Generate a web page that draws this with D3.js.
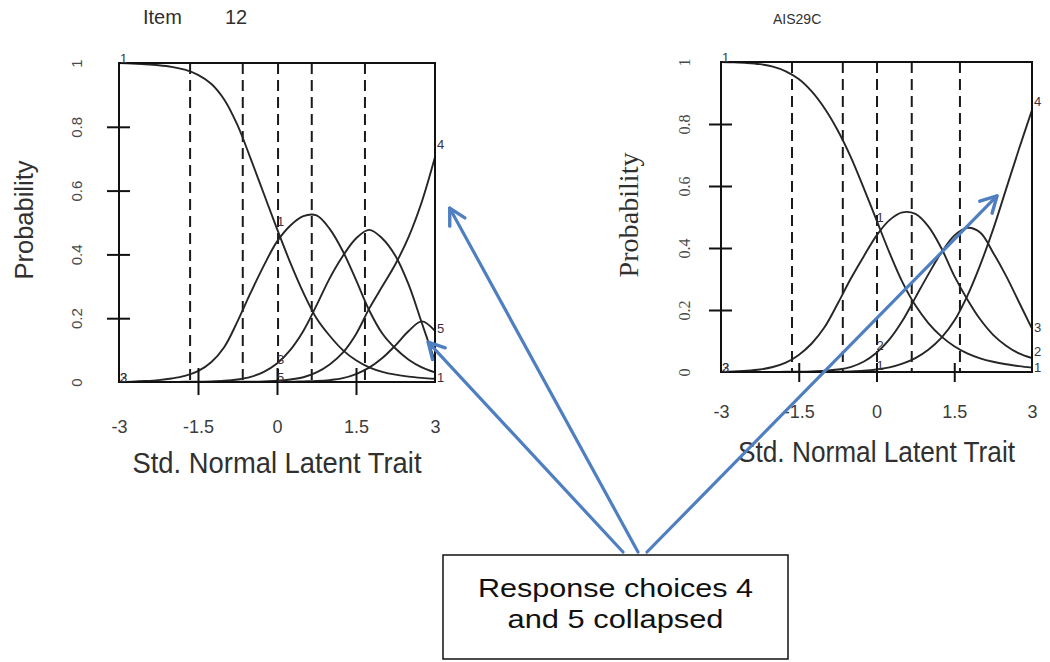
<!DOCTYPE html>
<html><head><meta charset="utf-8">
<script src="https://cdn.jsdelivr.net/npm/d3@7/dist/d3.min.js"></script>
<style>body{margin:0;background:#fff}svg{display:block}</style>
</head><body>
<svg id="c" width="1050" height="662"></svg>
<script>
// ---------- data ----------
const thetaGrid = [-3,-2.75,-2.5,-2.25,-2,-1.75,-1.5,-1.25,-1,-0.75,-0.5,-0.25,0,0.25,0.5,0.75,1,1.25,1.5,1.75,2,2.25,2.5,2.75,3];

const item12Cat1 = [1.000,0.998,0.996,0.993,0.988,0.979,0.963,0.935,0.885,0.805,0.700,0.590,0.480,0.375,0.280,0.200,0.145,0.100,0.068,0.046,0.032,0.023,0.017,0.013,0.010];
const item12Cat2 = [0.000,0.001,0.003,0.006,0.011,0.019,0.034,0.062,0.110,0.190,0.280,0.365,0.440,0.490,0.520,0.522,0.480,0.410,0.320,0.225,0.152,0.105,0.070,0.046,0.030];
const item12Cat3 = [0.000,0.000,0.000,0.000,0.000,0.001,0.001,0.002,0.004,0.008,0.016,0.032,0.058,0.100,0.160,0.240,0.325,0.395,0.450,0.477,0.450,0.395,0.305,0.185,0.065];
const item12Cat4 = [0.000,0.000,0.000,0.000,0.000,0.000,0.000,0.000,0.000,0.001,0.001,0.002,0.004,0.008,0.015,0.030,0.055,0.092,0.150,0.230,0.300,0.370,0.455,0.565,0.705];
const item12Cat5 = [0.000,0.000,0.000,0.000,0.000,0.000,0.000,0.000,0.000,0.000,0.000,0.000,0.001,0.001,0.002,0.003,0.006,0.012,0.025,0.045,0.075,0.115,0.160,0.190,0.160];

const ais29cCat1 = [1.000,0.999,0.997,0.993,0.985,0.970,0.945,0.905,0.850,0.780,0.695,0.595,0.490,0.385,0.290,0.215,0.158,0.115,0.083,0.060,0.044,0.033,0.025,0.019,0.014];
const ais29cCat2 = [0.000,0.002,0.004,0.008,0.016,0.030,0.055,0.092,0.145,0.220,0.300,0.372,0.440,0.490,0.515,0.510,0.470,0.400,0.310,0.235,0.170,0.120,0.085,0.060,0.045];
const ais29cCat3 = [0.000,0.000,0.000,0.000,0.000,0.001,0.001,0.002,0.004,0.008,0.016,0.033,0.062,0.105,0.165,0.240,0.315,0.385,0.440,0.465,0.450,0.385,0.310,0.225,0.140];
const ais29cCat4 = [0.000,0.000,0.000,0.000,0.000,0.000,0.000,0.000,0.000,0.001,0.002,0.004,0.008,0.015,0.027,0.045,0.072,0.110,0.165,0.245,0.345,0.460,0.590,0.720,0.845];

const item12Thresholds = [-1.65,-0.65,0.02,0.66,1.67];
const ais29cThresholds = [-1.63,-0.65,0.01,0.68,1.61];

const xTickValues = [-3,-1.5,0,1.5,3];
const xTickLabels = ["-3","-1.5","0","1.5","3"];
const xTickMarks = [-1.5,0,1.5];
const yTickValues = [0,0.2,0.4,0.6,0.8,1];
const yTickLabels = ["0","0.2","0.4","0.6","0.8","1"];
const yTickMarks = [0.2,0.4,0.6,0.8];

// curve labels [text, theta, probability]
const item12CurveLabels = [["1",-3,1.0],["1",0.07,0.49],["3",0.07,0.056],["5",0.07,0.0],["2",-3,0.0],["3",-3,0.0],["4",3,0.73],["5",3,0.154],["1",3,0.0]];
const ais29cCurveLabels = [["1",-3,1.0],["1",0.07,0.484],["2",0.07,0.071],["1",0.07,0.006],["2",-3,0.0],["3",-3,0.0],["4",3,0.858],["3",3,0.129],["2",3,0.052],["1",3,0.0]];

const panelTitles = ["Item", "AIS29C"];
const itemNumber = "12";
const xTitle = "Std. Normal Latent Trait";
const yTitle = "Probability";
const noteLines = ["Response choices 4", "and 5 collapsed"];

// arrow targets [panelIndex, theta, probability]
const arrowTargets = [[0,2.87,0.125],[0,3.28,0.545],[1,2.325,0.568]];

// ---------- layout ----------
const svg = d3.select("#c");
svg.append("rect").attr("width",1050).attr("height",662).attr("fill","#fff");
const SANS = "'Liberation Sans', Arial, sans-serif";
const SERIF = "'Liberation Serif', 'Times New Roman', serif";

const panels = [
  {left:119,right:435,bottom:382,top:63,
   curves:[item12Cat1,item12Cat2,item12Cat3,item12Cat4,item12Cat5],
   thresholds:item12Thresholds, labels:item12CurveLabels,
   yLabFont:SANS, yLabSize:15, yLabOff:-37, xLabOff:51,
   yTitleFont:SANS, yTitleSize:25, yTitleX:33, yTitleY:220, yTitleLen:119,
   xTitleY:473, xTitleLen:289, xtickUp:14, xtickDown:13},
  {left:721,right:1032,bottom:372,top:62,
   curves:[ais29cCat1,ais29cCat2,ais29cCat3,ais29cCat4],
   thresholds:ais29cThresholds, labels:ais29cCurveLabels,
   yLabFont:SERIF, yLabSize:16, yLabOff:-31, xLabOff:46,
   yTitleFont:SERIF, yTitleSize:27, yTitleX:638, yTitleY:215, yTitleLen:125,
   xTitleY:462, xTitleLen:277, xtickUp:9, xtickDown:10}
];

panels.forEach((P,pi)=>{
  const x = d3.scaleLinear().domain([-3,3]).range([P.left,P.right]);
  const y = d3.scaleLinear().domain([0,1]).range([P.bottom,P.top]);
  P.x = x; P.y = y;
  const g = svg.append("g");

  // dashed threshold lines
  g.selectAll("line.th").data(P.thresholds).join("line")
    .attr("x1",d=>x(d)).attr("x2",d=>x(d))
    .attr("y1",y(1)).attr("y2",y(0))
    .attr("stroke","#1a1a1a").attr("stroke-width",2).attr("stroke-dasharray","11,6");

  // curves
  const line = d3.line().x((d,i)=>x(thetaGrid[i])).y(d=>y(d)).curve(d3.curveCatmullRom.alpha(0.5));
  g.selectAll("path.cv").data(P.curves).join("path")
    .attr("d",d=>line(d)).attr("fill","none")
    .attr("stroke","#262626").attr("stroke-width",1.9);

  // box
  g.append("rect").attr("x",x(-3)).attr("y",y(1))
    .attr("width",x(3)-x(-3)).attr("height",y(0)-y(1))
    .attr("fill","none").attr("stroke","#111").attr("stroke-width",2);

  // x tick marks (crossing axis)
  const xAxisMarks = g.append("g").attr("transform",`translate(0,${y(0)})`)
    .call(d3.axisBottom(x).tickValues(xTickMarks).tickSize(P.xtickDown).tickFormat(""));
  xAxisMarks.select(".domain").remove();
  xAxisMarks.selectAll(".tick line").attr("y1",-P.xtickUp).attr("stroke","#111").attr("stroke-width",2);

  // x tick labels
  const xAxisLab = g.append("g").attr("transform",`translate(0,${y(0)})`)
    .call(d3.axisBottom(x).tickValues(xTickValues).tickSize(0).tickFormat((d,i)=>xTickLabels[i]));
  xAxisLab.select(".domain").remove();
  xAxisLab.selectAll(".tick text").attr("y",P.xLabOff).attr("dy",0)
    .attr("font-family",SANS).attr("font-size",18).attr("fill","#3c3c3c");

  // y tick marks (crossing axis)
  const yAxisMarks = g.append("g").attr("transform",`translate(${x(-3)},0)`)
    .call(d3.axisLeft(y).tickValues(yTickMarks).tickSize(12).tickFormat(""));
  yAxisMarks.select(".domain").remove();
  yAxisMarks.selectAll(".tick line").attr("x1",11).attr("stroke","#111").attr("stroke-width",2);

  // y tick labels (rotated)
  const yAxisLab = g.append("g").attr("transform",`translate(${x(-3)},0)`)
    .call(d3.axisLeft(y).tickValues(yTickValues).tickSize(0).tickFormat((d,i)=>yTickLabels[i]));
  yAxisLab.select(".domain").remove();
  yAxisLab.selectAll(".tick text")
    .attr("x",0).attr("dy",0).attr("text-anchor","middle")
    .attr("transform",`translate(${P.yLabOff},0) rotate(-90)`)
    .attr("font-family",P.yLabFont).attr("font-size",P.yLabSize).attr("fill","#4a4a4a");

  // axis titles
  g.append("text").text(xTitle)
    .attr("x",(x(-3)+x(3))/2).attr("y",P.xTitleY).attr("text-anchor","middle")
    .attr("font-family",SANS).attr("font-size",29).attr("fill","#303030")
    .attr("textLength",P.xTitleLen).attr("lengthAdjust","spacingAndGlyphs");
  g.append("text").text(yTitle)
    .attr("transform",`translate(${P.yTitleX},${P.yTitleY}) rotate(-90)`)
    .attr("text-anchor","middle")
    .attr("font-family",P.yTitleFont).attr("font-size",P.yTitleSize).attr("fill","#303030")
    .attr("textLength",P.yTitleLen).attr("lengthAdjust","spacingAndGlyphs");

  // curve labels
  g.selectAll("text.cl").data(P.labels).join("text")
    .attr("x",d=> d[1]===-3 ? x(d[1])+1 : d[1]===3 ? x(d[1])+2 : x(d[1]))
    .attr("y",d=>y(d[2]))
    .attr("text-anchor",d=> (d[1]===-3||d[1]===3) ? "start" : "middle")
    .attr("font-family",SANS).attr("font-size",13).attr("fill","#3a3040")
    .text(d=>d[0]);
});

// panel titles
svg.append("text").text(panelTitles[0]).attr("x",143).attr("y",24)
  .attr("font-family",SANS).attr("font-size",20).attr("fill","#303030");
svg.append("text").text(itemNumber).attr("x",225).attr("y",24)
  .attr("font-family",SANS).attr("font-size",20).attr("fill","#303030");
svg.append("text").text(panelTitles[1]).attr("x",773).attr("y",24)
  .attr("font-family",SANS).attr("font-size",14).attr("fill","#303030");

// annotation box
const box = {x:443,y:555,w:345,h:104};
const arrowOrigins = [[box.x+180,box.y-3],[box.x+195,box.y-3],[box.x+204,box.y-3]];
const arrowColor = "#4f7fc0";
arrowTargets.forEach((t,i)=>{
  const P = panels[t[0]];
  const tx = P.x(t[1]), ty = P.y(t[2]);
  const [ox,oy] = arrowOrigins[i];
  svg.append("line").attr("x1",ox).attr("y1",oy).attr("x2",tx).attr("y2",ty)
    .attr("stroke",arrowColor).attr("stroke-width",3.2).attr("stroke-linecap","round");
  const ang = Math.atan2(ty-oy, tx-ox);
  const L = 18, spread = 0.5;
  const p1 = [tx - L*Math.cos(ang-spread), ty - L*Math.sin(ang-spread)];
  const p2 = [tx - L*Math.cos(ang+spread), ty - L*Math.sin(ang+spread)];
  svg.append("path").attr("d",`M${p1[0]},${p1[1]}L${tx},${ty}L${p2[0]},${p2[1]}`)
    .attr("fill","none").attr("stroke",arrowColor).attr("stroke-width",3.4)
    .attr("stroke-linejoin","round").attr("stroke-linecap","round");
});

svg.append("rect").attr("x",box.x).attr("y",box.y).attr("width",box.w).attr("height",box.h)
  .attr("fill","#fff").attr("stroke","#111").attr("stroke-width",1.5);
const noteLens = [275,216];
const noteY = [597,628];
noteLines.forEach((s,i)=>{
  svg.append("text").text(s).attr("x",box.x+box.w/2).attr("y",noteY[i])
    .attr("text-anchor","middle").attr("font-family",SANS).attr("font-size",26.5)
    .attr("fill","#111").attr("textLength",noteLens[i]).attr("lengthAdjust","spacingAndGlyphs");
});
</script>
</body></html>
